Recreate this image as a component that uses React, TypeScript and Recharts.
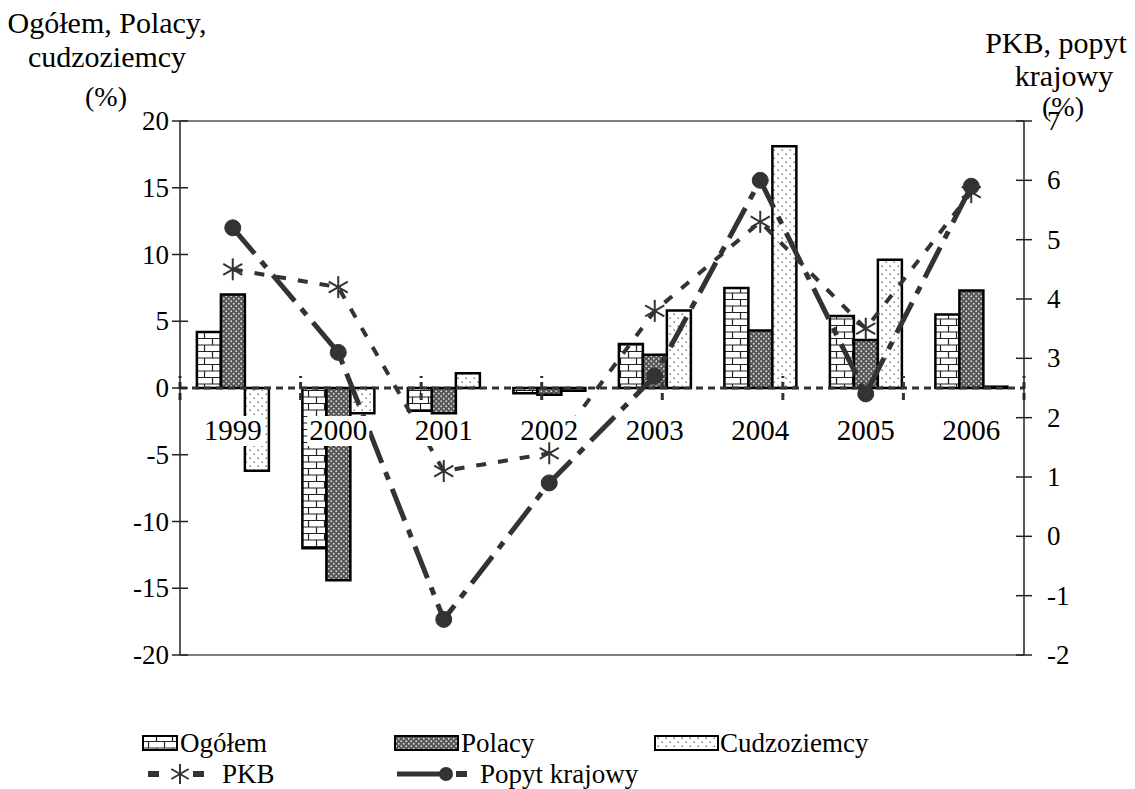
import React from 'react';
import {
  ComposedChart,
  Bar,
  Line,
  XAxis,
  YAxis,
  ReferenceLine,
  ReferenceDot,
  Customized,
} from 'recharts';

const years = ['1999', '2000', '2001', '2002', '2003', '2004', '2005', '2006'];
const ogolem = [4.2, -12.0, -1.7, -0.4, 3.3, 7.5, 5.4, 5.5];
const polacy = [7.0, -14.4, -1.9, -0.5, 2.5, 4.3, 3.6, 7.3];
const cudzoziemcy = [-6.2, -1.9, 1.1, -0.2, 5.8, 18.1, 9.6, 0.1];
const pkb = [4.5, 4.2, 1.1, 1.4, 3.8, 5.3, 3.5, 5.8];
const popyt = [5.2, 3.1, -1.4, 0.9, 2.7, 6.0, 2.4, 5.9];
const leftTicks = [-20, -15, -10, -5, 0, 5, 10, 15, 20];
const rightTicks = [-2, -1, 0, 1, 2, 3, 4, 5, 6, 7];
const leftTitle = ['Ogółem, Polacy,', 'cudzoziemcy', '(%)'];
const rightTitle = ['PKB, popyt', 'krajowy', '(%)'];
const seriesNames = ['Ogółem', 'Polacy', 'Cudzoziemcy', 'PKB', 'Popyt krajowy'];

const data = years.map((year, i) => ({
  year,
  ogolem: ogolem[i],
  polacy: polacy[i],
  cudzoziemcy: cudzoziemcy[i],
  pkb: pkb[i],
  popyt: popyt[i],
}));

const boundaries = Array.from({ length: years.length + 1 }, (_, i) => i);

const FONT = "'Liberation Serif', 'Times New Roman', serif";
const INK = '#333';
const TICK_SIZE = 8;
const TICK_MARGIN = 3;

const Star = ({ cx, cy, size = 10 }: { cx: number; cy: number; size?: number }) => {
  const a = size * Math.cos(Math.PI / 6);
  const b = size * Math.sin(Math.PI / 6);
  return (
    <g stroke={INK} strokeWidth={2}>
      <line x1={cx} y1={cy - size} x2={cx} y2={cy + size} />
      <line x1={cx - a} y1={cy - b} x2={cx + a} y2={cy + b} />
      <line x1={cx - a} y1={cy + b} x2={cx + a} y2={cy - b} />
    </g>
  );
};

const LeftTick = (props: any) => {
  const { x, y, payload } = props;
  const ax = x + TICK_MARGIN + TICK_SIZE;
  return (
    <g>
      <line x1={ax - TICK_SIZE} x2={ax + TICK_SIZE} y1={y} y2={y} stroke="#222" strokeWidth={1.5} />
      <text x={x} y={y} dy={9} textAnchor="end" fontFamily={FONT} fontSize={27} fill="#000">
        {payload.value}
      </text>
    </g>
  );
};

const RightTick = (props: any) => {
  const { x, y, payload } = props;
  const ax = x - 15 - TICK_SIZE;
  return (
    <g>
      <line x1={ax - TICK_SIZE} x2={ax + TICK_SIZE} y1={y} y2={y} stroke="#222" strokeWidth={1.5} />
      <text x={x} y={y} dy={9} textAnchor="start" fontFamily={FONT} fontSize={27} fill="#000">
        {payload.value}
      </text>
    </g>
  );
};

const YearLabel = (label: string) => (props: any) => {
  const vb = props.viewBox || {};
  const cx = vb.x + (vb.width || 0) / 2;
  const cy = vb.y + (vb.height || 0) / 2;
  const base = cy + 52;
  return (
    <g>
      <rect x={cx - 31} y={base - 24} width={62} height={30} fill="#fff" />
      <text x={cx} y={base} textAnchor="middle" fontFamily={FONT} fontSize={29} fill="#000">
        {label}
      </text>
    </g>
  );
};

const Titles = () => (
  <g fontFamily={FONT} fill="#000">
    <text x={107} y={33} textAnchor="middle" fontSize={30}>{leftTitle[0]}</text>
    <text x={107} y={67} textAnchor="middle" fontSize={30}>{leftTitle[1]}</text>
    <text x={106} y={106} textAnchor="middle" fontSize={28}>{leftTitle[2]}</text>
    <text x={1056} y={53} textAnchor="middle" fontSize={30}>{rightTitle[0]}</text>
    <text x={1064} y={86} textAnchor="middle" fontSize={30}>{rightTitle[1]}</text>
    <text x={1063} y={116} textAnchor="middle" fontSize={28}>{rightTitle[2]}</text>
  </g>
);

const LegendSvg = () => {
  const r1 = 743;
  const r2 = 774;
  return (
    <g fontFamily={FONT} fontSize={27} fill="#000">
      <rect x={143} y={r1 - 7} width={34} height={14} fill="url(#brick)" stroke="#000" strokeWidth={2} />
      <text x={180} y={r1 + 9}>{seriesNames[0]}</text>
      <rect x={395} y={r1 - 7} width={63} height={14} fill="url(#cross)" stroke="#000" strokeWidth={2} />
      <text x={461} y={r1 + 9}>{seriesNames[1]}</text>
      <rect x={655} y={r1 - 7} width={63} height={14} fill="url(#dots)" stroke="#000" strokeWidth={2} />
      <text x={720} y={r1 + 9}>{seriesNames[2]}</text>

      <rect x={148} y={r2 - 3} width={11} height={6} fill={INK} />
      <Star cx={180} cy={r2} size={10} />
      <rect x={193} y={r2 - 3} width={11} height={6} fill={INK} />
      <text x={222} y={r2 + 9}>{seriesNames[3]}</text>

      <line x1={397} x2={440} y1={r2} y2={r2} stroke={INK} strokeWidth={5} />
      <circle cx={446} cy={r2} r={7} fill={INK} />
      <rect x={456} y={r2 - 3} width={11} height={6} fill={INK} />
      <text x={480} y={r2 + 9}>{seriesNames[4]}</text>
    </g>
  );
};

export default function App() {
  return (
    <div style={{ position: 'absolute', left: 0, top: 0, background: '#fff' }}>
      <ComposedChart
        width={1135}
        height={789}
        data={data}
        margin={{ top: 121, right: 51, bottom: 134, left: 120 }}
        barCategoryGap="16%"
        barGap={0}
      >
        <defs>
          <pattern id="brick" width={16} height={13} patternUnits="userSpaceOnUse">
            <rect width={16} height={13} fill="#fff" />
            <path d="M0 0.5H16 M0 7H16 M4.5 0.5V7 M12.5 7V13" stroke="#222" strokeWidth={1.2} fill="none" />
          </pattern>
          <pattern id="cross" width={5} height={5} patternUnits="userSpaceOnUse">
            <rect width={5} height={5} fill="#555" />
            <circle cx={1.25} cy={1.25} r={0.95} fill="#d8d8d8" />
            <circle cx={3.75} cy={3.75} r={0.95} fill="#d8d8d8" />
          </pattern>
          <pattern id="dots" width={8} height={8} patternUnits="userSpaceOnUse">
            <rect width={8} height={8} fill="#fff" />
            <rect x={1.5} y={1.5} width={1.4} height={1.4} fill="#666" />
            <rect x={5.5} y={5.5} width={1.4} height={1.4} fill="#666" />
          </pattern>
        </defs>

        <XAxis xAxisId="cat" dataKey="year" type="category" hide />
        <XAxis xAxisId="num" type="number" domain={[0, years.length]} hide />
        <YAxis
          yAxisId="left"
          orientation="left"
          width={60}
          domain={[-20, 20]}
          ticks={leftTicks}
          interval={0}
          axisLine={{ stroke: '#222', strokeWidth: 1.5 }}
          tickLine={false}
          tickSize={TICK_SIZE}
          tickMargin={TICK_MARGIN}
          tick={<LeftTick />}
        />
        <YAxis
          yAxisId="right"
          orientation="right"
          width={60}
          domain={[-2, 7]}
          ticks={rightTicks}
          interval={0}
          axisLine={{ stroke: '#222', strokeWidth: 1.5 }}
          tickLine={false}
          tickSize={TICK_SIZE}
          tickMargin={15}
          tick={<RightTick />}
        />

        <ReferenceLine yAxisId="left" xAxisId="cat" y={20} stroke="#555" strokeWidth={1.5} />
        <ReferenceLine yAxisId="left" xAxisId="cat" y={-20} stroke="#555" strokeWidth={1.5} />

        <Bar xAxisId="cat" yAxisId="left" dataKey="ogolem" name={seriesNames[0]} fill="url(#brick)" stroke="#000" strokeWidth={2.5} isAnimationActive={false} />
        <Bar xAxisId="cat" yAxisId="left" dataKey="polacy" name={seriesNames[1]} fill="url(#cross)" stroke="#000" strokeWidth={2.5} isAnimationActive={false} />
        <Bar xAxisId="cat" yAxisId="left" dataKey="cudzoziemcy" name={seriesNames[2]} fill="url(#dots)" stroke="#000" strokeWidth={2.5} isAnimationActive={false} />

        <ReferenceLine yAxisId="left" xAxisId="cat" y={0} stroke={INK} strokeWidth={3} strokeDasharray="7 5" />
        {boundaries.map((b) => (
          <ReferenceLine
            key={'b' + b}
            xAxisId="num"
            yAxisId="left"
            segment={[{ x: b, y: -0.9 }, { x: b, y: 0.9 }]}
            stroke={INK}
            strokeWidth={3}
            strokeDasharray="7 4"
          />
        ))}
        {years.map((y) => (
          <ReferenceDot
            key={'l' + y}
            xAxisId="cat"
            yAxisId="left"
            x={y}
            y={0}
            r={0}
            fill="none"
            stroke="none"
            label={YearLabel(y)}
          />
        ))}

        <Line
          xAxisId="cat"
          yAxisId="right"
          type="linear"
          dataKey="pkb"
          name={seriesNames[3]}
          stroke={INK}
          strokeWidth={4}
          strokeDasharray="10 12"
          dot={(p: any) => <Star key={'s' + p.index} cx={p.cx} cy={p.cy} size={11} />}
          isAnimationActive={false}
        />
        <Line
          xAxisId="cat"
          yAxisId="right"
          type="linear"
          dataKey="popyt"
          name={seriesNames[4]}
          stroke={INK}
          strokeWidth={5}
          strokeDasharray="34 10 8 10"
          dot={{ r: 8, fill: INK, stroke: INK, strokeWidth: 1, strokeDasharray: '' }}
          isAnimationActive={false}
        />

        <Customized component={<Titles />} />
        <Customized component={<LegendSvg />} />
      </ComposedChart>
    </div>
  );
}
